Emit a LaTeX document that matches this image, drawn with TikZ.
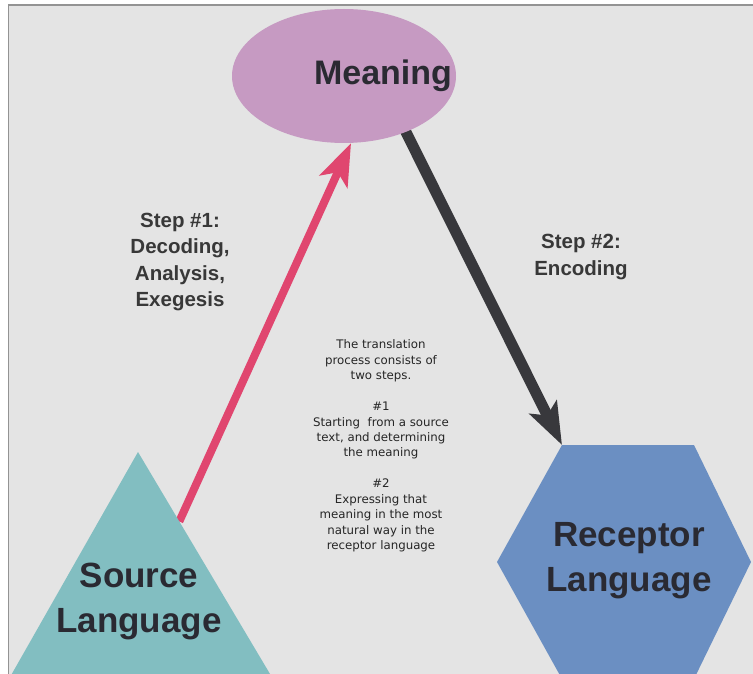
\documentclass[tikz,border=0pt]{standalone}
\usepackage{fontspec}
\setmainfont{Liberation Sans}
\newfontfamily\notefont{DejaVu Sans}
\usepackage{xcolor}
\usetikzlibrary{arrows.meta, calc, backgrounds, shapes.geometric}

\definecolor{paper}{HTML}{E4E4E4}
\definecolor{meaningpink}{HTML}{C69AC2}
\definecolor{sourceteal}{HTML}{82BEC1}
\definecolor{receptorblue}{HTML}{6B8FC2}
\definecolor{decodepink}{HTML}{E0466F}
\definecolor{encodegray}{HTML}{38383C}
\definecolor{inkdark}{HTML}{2A2A32}

\tikzset{
  bigword/.style={font=\bfseries\fontsize{35}{45}\selectfont, text=inkdark, align=center, inner sep=0pt},
  steplabel/.style={font=\bfseries\fontsize{20.5}{26.3}\selectfont, text=black!78, align=center, inner sep=0pt},
}

\begin{document}
\begin{tikzpicture}[x=1pt, y=-1pt]
  \clip (0,0) rectangle (753,674);

  % Meaning (top)
  \node[ellipse, fill=meaningpink, minimum width=224pt, minimum height=134pt, inner sep=0pt] (meaning) at (344,76) {};
  \node[font=\bfseries\fontsize{34}{40}\selectfont, text=inkdark, anchor=base] (meaninglabel) at (383,85) {Meaning};

  % Source language triangle
  \coordinate (apex) at (138,452);
  \coordinate (baseL) at (-3,700);
  \coordinate (baseR) at (285.5,700);
  \fill[sourceteal] (apex) -- (baseR) -- (baseL) -- cycle;
  \coordinate (srcedge) at ($(apex)!0.28!(baseR)$);
  \node[bigword] (sourcelabel) at (139,601) {Source\\Language};

  % Receptor language hexagon
  \fill[receptorblue] (562,445) coordinate (hextl) -- (694,445) -- (751,562)
    -- (694,679) -- (562,679) -- (497,562) -- cycle;
  \node[bigword] (receptorlabel) at (629,561) {Receptor\\Language};

  % Paper and the two steps, behind the shapes
  \begin{pgfonlayer}{background}
    \fill[white] (0,0) rectangle (753,674);
    \fill[paper] (8.5,5) rectangle (754,675);
    \draw[gray!85, line width=1.2pt] (8.5,675) -- (8.5,5) -- (754,5);
    \draw[decodepink, line width=8pt, -{Stealth[length=42pt, width=30pt, inset=10pt]}] (srcedge) -- (meaning.276);
    \draw[encodegray, line width=11pt, -{Stealth[length=42pt, width=30pt, inset=9pt]}] ([xshift=34pt]meaning.center) -- (hextl);
  \end{pgfonlayer}

  % Labels
  \node[steplabel] (step1) at (180,262) {Step \#1:\\Decoding,\\Analysis,\\Exegesis};
  \node[steplabel] (step2) at (581,257) {Step \#2:\\Encoding};
  \node[font=\notefont\fontsize{11.8}{15.46}\selectfont, align=center, inner sep=0pt, text=black!85] (note) at (381,446)
    {The translation\\process consists of\\two steps.\\[15.46pt]\#1\\Starting\ \ from a source\\text, and determining\\the meaning\\[15.46pt]\#2\\Expressing that\\meaning in the most\\natural way in the\\receptor language};
\end{tikzpicture}
\end{document}
